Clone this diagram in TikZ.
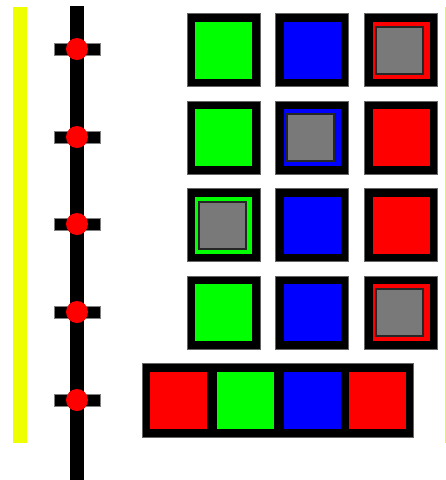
\documentclass[tikz,border=0pt]{standalone}
\definecolor{lemon}{RGB}{238,255,0}
\begin{document}
\begin{tikzpicture}[x=1pt,y=-1pt,
  outerbox/.style={fill=black,draw=black!60,line width=0.6pt,minimum size=73.4pt,inner sep=0pt,outer sep=0pt},
  innerbox/.style={minimum size=57pt,inner sep=0pt,outer sep=0pt},
  greybox/.style={fill=gray!95!black,draw=black!85,line width=2pt,minimum size=47pt,inner sep=0pt,outer sep=0pt},
  crossbar/.style={fill=black,draw=black!50,line width=0.4pt,minimum width=46pt,minimum height=12pt,inner sep=0pt},
  dot/.style={circle,fill=red,minimum size=22pt,inner sep=0pt}]
\useasboundingbox (0,0) rectangle (446,480);
% yellow bars
\fill[lemon] (13,7) rectangle (27,443);
\draw[lemon,line width=1pt] (445.5,7) -- (445.5,443);
% black spine
\fill[black] (70,6) rectangle (84,480);
\foreach \y [count=\i] in {49,137,224,312,400}{
  \node[crossbar] (cb\i) at (77,\y) {};
  \node[dot] (d\i) at (77,\y) {};
}
% grid rows 1-4
\foreach \r/\y/\ca/\cb/\cc in {1/50/green/blue/red, 2/137.5/green/blue/red, 3/225/green/blue/red, 4/312.5/green/blue/red}{
  \node[outerbox] (o\r a) at (223.5,\y) {};
  \node[outerbox] (o\r b) at (312,\y) {};
  \node[outerbox] (o\r c) at (401,\y) {};
  \node[innerbox,fill=\ca] (i\r a) at (223.5,\y) {};
  \node[innerbox,fill=\cb] (i\r b) at (312,\y) {};
  \node[innerbox,fill=\cc] (i\r c) at (401,\y) {};
}
\node[greybox] (g1) at (399.5,50.3) {};
\node[greybox] (g2) at (310.5,137.5) {};
\node[greybox] (g3) at (222,225) {};
\node[greybox] (g4) at (399.5,312.5) {};
% bottom row
\draw[black!60,line width=0.6pt,fill=black] (142,363.6) rectangle (413.7,437);
\foreach \x/\c [count=\i] in {178.7/red,245.5/green,312/blue,377/red}{
  \node[innerbox,fill=\c] (bi\i) at (\x,400.5) {};
}
\end{tikzpicture}
\end{document}
